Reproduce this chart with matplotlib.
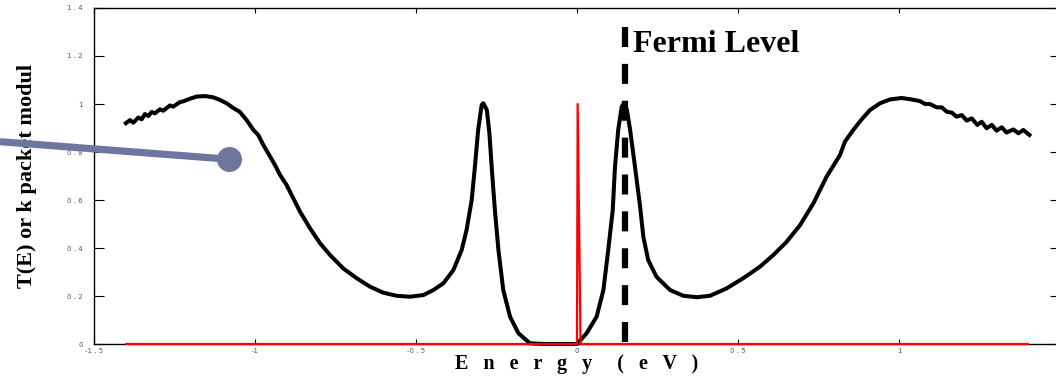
import matplotlib
matplotlib.use("Agg")
import matplotlib.pyplot as plt

# ---- data ----
energy_T = [-1.401, -1.388, -1.378, -1.362, -1.352, -1.342, -1.331, -1.321, -1.311,
            -1.295, -1.285, -1.264, -1.254, -1.233, -1.223, -1.202, -1.181, -1.155,
            -1.130, -1.109, -1.088, -1.067, -1.047, -1.026, -1.005, -0.990, -0.974,
            -0.953, -0.938, -0.922, -0.902, -0.881, -0.860, -0.829, -0.798, -0.767,
            -0.726, -0.684, -0.643, -0.602, -0.560, -0.519, -0.477, -0.446, -0.415,
            -0.384, -0.358, -0.343, -0.327, -0.317, -0.307, -0.296, -0.291, -0.280,
            -0.272, -0.265, -0.255, -0.244, -0.229, -0.208, -0.182, -0.146, -0.100,
            0.000, 0.030, 0.061, 0.082, 0.097, 0.111, 0.118, 0.128, 0.139, 0.146,
            0.155, 0.165, 0.180, 0.196, 0.206, 0.221, 0.247, 0.289, 0.330, 0.372,
            0.413, 0.465, 0.516, 0.568, 0.610, 0.651, 0.693, 0.734, 0.775, 0.817,
            0.832, 0.858, 0.884, 0.910, 0.941, 0.972, 1.008, 1.039, 1.065, 1.081,
            1.096, 1.117, 1.133, 1.148, 1.164, 1.179, 1.195, 1.210, 1.226, 1.243,
            1.257, 1.272, 1.288, 1.303, 1.319, 1.334, 1.355, 1.371, 1.386, 1.405]
trans_T = [0.920, 0.933, 0.922, 0.944, 0.936, 0.958, 0.950, 0.967, 0.961,
           0.978, 0.972, 0.994, 0.989, 1.008, 1.011, 1.022, 1.031, 1.033,
           1.028, 1.017, 1.003, 0.983, 0.967, 0.933, 0.892, 0.871, 0.829,
           0.781, 0.746, 0.704, 0.663, 0.607, 0.551, 0.482, 0.420, 0.371,
           0.315, 0.274, 0.239, 0.214, 0.201, 0.197, 0.204, 0.225, 0.253,
           0.308, 0.392, 0.475, 0.600, 0.739, 0.892, 0.996, 1.003, 0.975,
           0.878, 0.739, 0.558, 0.392, 0.225, 0.114, 0.045, 0.003, 0.000,
           0.000, 0.045, 0.114, 0.225, 0.392, 0.558, 0.739, 0.892, 0.989, 1.003,
           0.975, 0.892, 0.739, 0.572, 0.447, 0.350, 0.280, 0.225, 0.201, 0.195,
           0.201, 0.232, 0.274, 0.322, 0.371, 0.426, 0.496, 0.586, 0.697, 0.788,
           0.843, 0.892, 0.936, 0.975, 1.003, 1.019, 1.025, 1.019, 1.012, 1.000,
           1.000, 0.986, 0.986, 0.968, 0.964, 0.947, 0.954, 0.931, 0.940, 0.913,
           0.926, 0.899, 0.913, 0.889, 0.903, 0.881, 0.894, 0.878, 0.892, 0.871]

energy_k = [-1.40, 0.000, 0.002, 0.011, 1.40]
k_modul = [0.0, 0.0, 1.0, 0.0, 0.0]

fermi_level = 0.15
fermi_top = 1.32
xticks = [-1.5, -1.0, -0.5, 0.0, 0.5, 1.0, 1.5]
xtick_labels = ["-1 . 5", "-1", "-0 . 5", "0", "0 . 5", "1", "1"]
yticks = [0.0, 0.2, 0.4, 0.6, 0.8, 1.0, 1.2, 1.4]
ytick_labels = ["0", "0 . 2", "0 . 4", "0 . 6", "0 . 8", "1", "1 . 2", "1 . 4"]

# pointer annotation (data coords)
pointer_start = (-1.792, 0.843)
pointer_end = (-1.081, 0.770)

fig = plt.figure(figsize=(10.56, 3.79), dpi=100)
ax = fig.add_axes([0.089, 0.0923, 0.9148, 0.8866])

ax.plot(energy_T, trans_T, color="black", lw=2.9, solid_joinstyle="round",
        clip_on=False, zorder=3)
ax.plot(energy_k, k_modul, color="#ff0000", lw=1.6, clip_on=False, zorder=4)
ax.plot([fermi_level, fermi_level], [fermi_top, 0], color="black", lw=4.5,
        dashes=(3.2, 2.7), zorder=5)

ax.text(0.174, 1.217, "Fermi Level", fontsize=23, fontweight="bold",
        family="Liberation Serif", va="baseline", ha="left")

ax.set_xlim(-1.5, 1.5)
ax.set_ylim(0, 1.4)
ax.set_xticks(xticks)
ax.set_xticklabels(xtick_labels)
ax.set_yticks(yticks)
ax.set_yticklabels(ytick_labels)
ax.tick_params(axis="x", direction="in", length=3.5, width=0.8, top=True,
               labelsize=5, pad=3, colors="black", labelcolor="#555555")
ax.tick_params(axis="y", direction="in", length=7, width=0.8, right=True,
               labelsize=5, pad=8, colors="black", labelcolor="#555555")
for s in ax.spines.values():
    s.set_linewidth(1.0)

ax.set_xlabel("E   n   e   r   g   y     (   e   V   )", fontsize=14.5,
              fontweight="bold", family="Liberation Serif", labelpad=0)
ax.set_ylabel("T(E) or k packet modul", fontsize=16, fontweight="bold",
              family="Liberation Serif", labelpad=22)

ax.plot([pointer_start[0], pointer_end[0]], [pointer_start[1], pointer_end[1]],
        color="#6e76a0", lw=5.2, solid_capstyle="butt", clip_on=False, zorder=10)
ax.plot([pointer_end[0]], [pointer_end[1]], "o", color="#6e76a0", ms=17,
        clip_on=False, zorder=11)

fig.savefig("out.png", dpi=100)
